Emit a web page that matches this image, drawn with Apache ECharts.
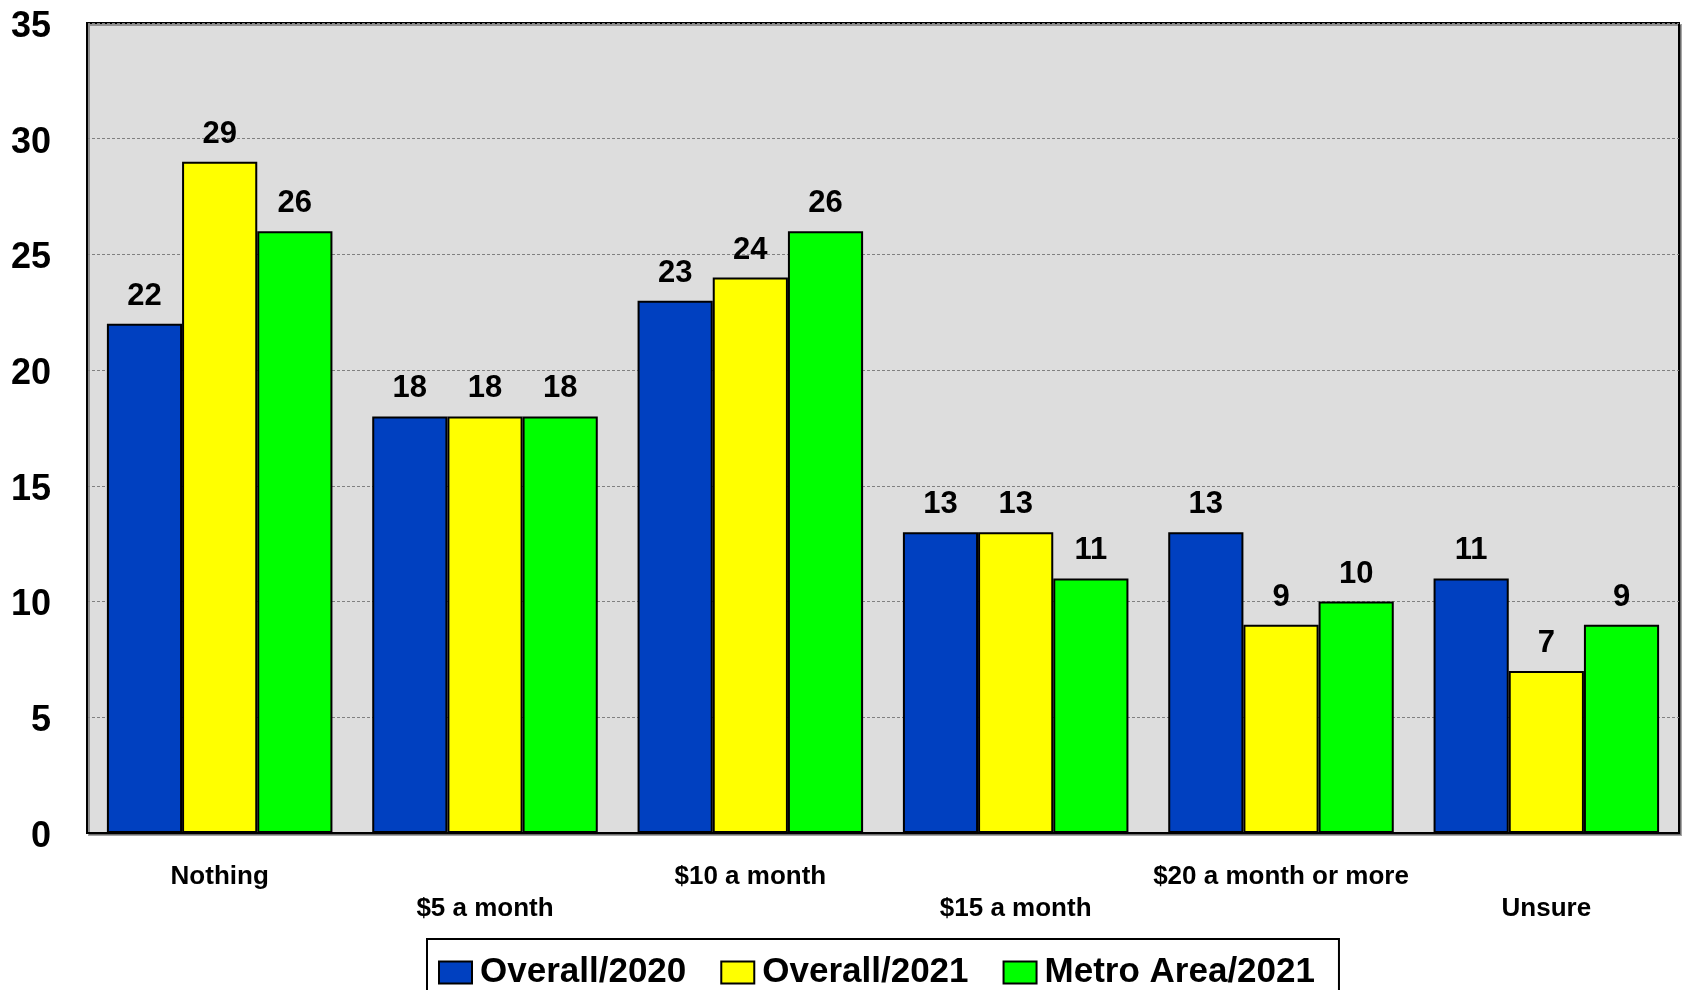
<!DOCTYPE html>
<html>
<head>
<meta charset="utf-8">
<script src="https://cdn.jsdelivr.net/npm/echarts@6/dist/echarts.min.js"></script>
<style>
html,body{margin:0;padding:0;background:#fff;}
#chart{width:1682px;height:990px;}
</style>
</head>
<body>
<div id="chart"></div>
<script>
const categories = ['Nothing', '$5 a month', '$10 a month', '$15 a month', '$20 a month or more', 'Unsure'];
const seriesNames = ['Overall/2020', 'Overall/2021', 'Metro Area/2021'];
const overall2020 = [22, 18, 23, 13, 13, 11];
const overall2021 = [29, 18, 24, 13, 9, 7];
const metro2021 = [26, 18, 26, 11, 10, 9];
const colors = ['#0040C0', '#FFFF00', '#00FF00'];
const yMin = 0, yMax = 35, yInterval = 5;

const FONT = '"Liberation Sans", Arial, sans-serif';
const chart = echarts.init(document.getElementById('chart'));

function makeSeries(name, data, color) {
  return {
    name: name,
    type: 'bar',
    data: data,
    barGap: '0%',
    barCategoryGap: '15%',
    itemStyle: { color: color, borderColor: '#000', borderWidth: 2 },
    label: {
      show: true,
      position: 'top',
      distance: 12,
      color: '#000',
      fontFamily: FONT,
      fontWeight: 'bold',
      fontSize: 31
    }
  };
}

chart.setOption({
  animation: false,
  backgroundColor: '#fff',
  grid: {
    left: 87, right: 3, top: 23, bottom: 157,
    show: true,
    backgroundColor: '#DDDDDD',
    borderColor: '#000',
    borderWidth: 2,
    shadowColor: 'rgba(0,0,0,0.35)',
    shadowOffsetX: 2,
    shadowOffsetY: 2
  },
  legend: {
    data: seriesNames,
    left: 427,
    top: 939,
    orient: 'horizontal',
    padding: [16, 24, 16, 11],
    borderColor: '#000',
    borderWidth: 2,
    backgroundColor: '#fff',
    itemWidth: 33,
    itemHeight: 22,
    itemGap: 34,
    icon: 'rect',
    textStyle: {
      color: '#000',
      fontFamily: FONT,
      fontWeight: 'bold',
      fontSize: 35,
      padding: [0, 0, 0, 3]
    }
  },
  xAxis: {
    type: 'category',
    data: categories,
    axisTick: { show: false },
    axisLine: { show: true, lineStyle: { color: '#000', width: 2 } },
    axisLabel: {
      interval: 0,
      margin: 28,
      color: '#000',
      fontFamily: FONT,
      fontWeight: 'bold',
      fontSize: 26,
      lineHeight: 32,
      formatter: function (v, i) { return i % 2 === 1 ? '\n' + v : v; }
    }
  },
  yAxis: {
    type: 'value',
    min: yMin,
    max: yMax,
    interval: yInterval,
    axisLine: { show: true, lineStyle: { color: '#000', width: 2 } },
    axisTick: { show: false },
    axisLabel: {
      margin: 36,
      color: '#000',
      fontFamily: FONT,
      fontWeight: 'bold',
      fontSize: 36,
      formatter: function (v) { return '{a|' + v + '}'; },
      rich: {
        a: {
          color: '#000',
          fontFamily: FONT,
          fontWeight: 'bold',
          fontSize: 36,
          padding: [8, 0, 0, 0]
        }
      }
    },
    splitLine: { show: true, lineStyle: { color: '#808080', type: [3, 2], width: 1 } }
  },
  series: [
    makeSeries(seriesNames[0], overall2020, colors[0]),
    makeSeries(seriesNames[1], overall2021, colors[1]),
    makeSeries(seriesNames[2], metro2021, colors[2])
  ]
});
</script>
</body>
</html>
